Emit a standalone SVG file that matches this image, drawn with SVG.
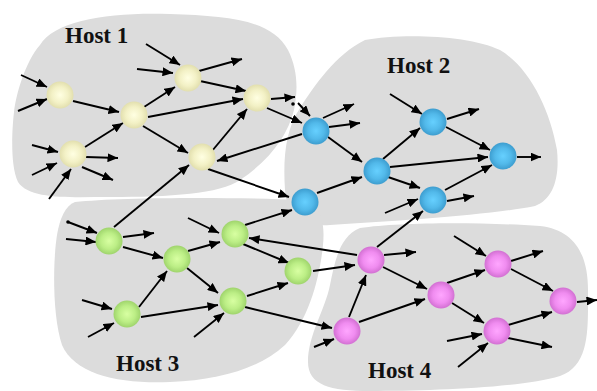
<svg xmlns="http://www.w3.org/2000/svg" width="597" height="391" viewBox="0 0 597 391">
  <style>
    .host { fill: #dcdcdc; stroke: none; }
    .label { font-family: "Liberation Serif", "Times New Roman", serif; font-weight: bold; font-size: 23px; fill: #111; }
    .edge { stroke: #000; stroke-width: 1.9; fill: none; marker-end: url(#arrow); }
    .dot { fill: #000; }
    .y { fill: url(#gYellow); }
    .b { fill: url(#gBlue); }
    .g { fill: url(#gGreen); }
    .p { fill: url(#gPink); }
  </style>
  <defs>
    <marker id="arrow" markerUnits="userSpaceOnUse" markerWidth="11" markerHeight="9" refX="10.5" refY="4.5" orient="auto">
      <path d="M0,0 L10.5,4.5 L0,9 Z" fill="#000"/>
    </marker>
    <radialGradient id="gYellow" cx="50%" cy="50%" r="50%">
      <stop offset="0" stop-color="#ffffe2"/>
      <stop offset="0.6" stop-color="#f3f1c6"/>
      <stop offset="1" stop-color="#e2dfae"/>
    </radialGradient>
    <radialGradient id="gBlue" cx="50%" cy="50%" r="50%">
      <stop offset="0" stop-color="#66d0ff"/>
      <stop offset="0.6" stop-color="#52b9ea"/>
      <stop offset="1" stop-color="#3d9dcf"/>
    </radialGradient>
    <radialGradient id="gGreen" cx="50%" cy="50%" r="50%">
      <stop offset="0" stop-color="#d8ffa2"/>
      <stop offset="0.6" stop-color="#bcee86"/>
      <stop offset="1" stop-color="#9fd46c"/>
    </radialGradient>
    <radialGradient id="gPink" cx="50%" cy="50%" r="50%">
      <stop offset="0" stop-color="#ffa6ff"/>
      <stop offset="0.6" stop-color="#f08cf0"/>
      <stop offset="1" stop-color="#d270d2"/>
    </radialGradient>
  </defs>

  <!-- host regions -->
  <g id="hosts">
    <path id="host1-area" class="host" d="M40,45 C55,20 110,12 170,14 C230,16 272,20 288,50 C298,70 298,90 294,110 C288,135 270,160 240,180 C220,194 170,197 110,197 C70,197 30,200 18,182 C10,165 12,130 14,112 C16,95 25,62 40,45 Z"/>
    <path id="host2-area" class="host" d="M365,40 C400,33 470,35 500,50 C530,68 550,110 557,150 C560,180 552,200 535,206 C490,215 400,221 330,225 C300,227 287,215 285,190 C283,160 285,130 300,108 C315,85 335,55 365,40 Z"/>
    <path id="host3-area" class="host" d="M75,202 C120,197 240,197 300,200 C322,204 325,225 323,245 C320,275 310,318 285,345 C260,368 220,380 170,382 C120,384 75,375 62,345 C52,315 53,260 57,235 C60,218 65,206 75,202 Z"/>
    <path id="host4-area" class="host" d="M360,228 C400,222 480,222 540,226 C575,230 588,255 588,290 C588,330 590,365 560,376 C520,388 430,391 370,391 C330,391 308,385 308,362 C308,335 325,310 330,285 C335,260 340,236 360,228 Z"/>
  </g>

  <g id="labels">
    <text class="label" x="65" y="43">Host 1</text>
    <text class="label" x="387" y="73">Host 2</text>
    <text class="label" x="116" y="371">Host 3</text>
    <text class="label" x="368" y="378">Host 4</text>
  </g>

  <!-- connectors -->
  <g id="connectors">
    <!-- host 1 -->
    <line class="edge" x1="21" y1="75" x2="47" y2="87"/>
    <line class="edge" x1="18" y1="111" x2="47" y2="99"/>
    <line class="edge" x1="73" y1="101" x2="119" y2="112"/>
    <line class="edge" x1="32" y1="145" x2="58" y2="152"/>
    <line class="edge" x1="32" y1="175" x2="57" y2="163"/>
    <line class="edge" x1="49" y1="199" x2="71" y2="169"/>
    <line class="edge" x1="86" y1="157" x2="118" y2="158"/>
    <line class="edge" x1="82" y1="167" x2="113" y2="180"/>
    <line class="edge" x1="85" y1="147" x2="123" y2="123"/>
    <line class="edge" x1="144" y1="107" x2="175" y2="87"/>
    <line class="edge" x1="148" y1="117" x2="243" y2="99"/>
    <line class="edge" x1="143" y1="126" x2="188" y2="153"/>
    <line class="edge" x1="146" y1="44" x2="180" y2="65"/>
    <line class="edge" x1="137" y1="69" x2="173" y2="73"/>
    <line class="edge" x1="199" y1="71" x2="242" y2="59"/>
    <line class="edge" x1="200" y1="81" x2="246" y2="91"/>
    <line class="edge" x1="212" y1="151" x2="247" y2="109"/>
    <line class="edge" x1="271" y1="99" x2="295" y2="97"/>
    <line class="edge" x1="267" y1="108" x2="302" y2="123"/>
    <line class="edge" x1="114" y1="227" x2="189" y2="165"/>
    <line class="edge" x1="302" y1="134" x2="217" y2="161"/>
    <line class="edge" x1="208" y1="169" x2="289" y2="197"/>
    <circle class="dot" cx="293" cy="104" r="1.8"/>
    <line class="edge" x1="298" y1="103" x2="310" y2="116"/>
    <!-- host 2 -->
    <line class="edge" x1="323" y1="118" x2="354" y2="104"/>
    <line class="edge" x1="329" y1="127" x2="360" y2="123"/>
    <line class="edge" x1="328" y1="137" x2="362" y2="162"/>
    <line class="edge" x1="317" y1="193" x2="362" y2="177"/>
    <line class="edge" x1="383" y1="159" x2="420" y2="128"/>
    <line class="edge" x1="390" y1="167" x2="488" y2="157"/>
    <line class="edge" x1="388" y1="177" x2="420" y2="188"/>
    <line class="edge" x1="390" y1="94" x2="422" y2="114"/>
    <line class="edge" x1="447" y1="119" x2="479" y2="109"/>
    <line class="edge" x1="446" y1="127" x2="490" y2="150"/>
    <line class="edge" x1="445" y1="190" x2="492" y2="165"/>
    <line class="edge" x1="447" y1="201" x2="474" y2="196"/>
    <line class="edge" x1="385" y1="213" x2="418" y2="199"/>
    <line class="edge" x1="377" y1="247" x2="423" y2="211"/>
    <line class="edge" x1="517" y1="157" x2="541" y2="157"/>
    <line class="edge" x1="245" y1="225" x2="292" y2="210"/>
    <!-- host 3 -->
    <circle class="dot" cx="68" cy="222" r="1.8"/>
    <line class="edge" x1="68" y1="222" x2="97" y2="233"/>
    <line class="edge" x1="66" y1="239" x2="96" y2="242"/>
    <line class="edge" x1="123" y1="237" x2="154" y2="233"/>
    <line class="edge" x1="123" y1="247" x2="163" y2="258"/>
    <line class="edge" x1="82" y1="300" x2="112" y2="309"/>
    <line class="edge" x1="88" y1="337" x2="114" y2="323"/>
    <line class="edge" x1="139" y1="307" x2="167" y2="271"/>
    <line class="edge" x1="141" y1="317" x2="218" y2="305"/>
    <line class="edge" x1="188" y1="251" x2="220" y2="242"/>
    <line class="edge" x1="187" y1="268" x2="218" y2="293"/>
    <line class="edge" x1="188" y1="218" x2="219" y2="233"/>
    <line class="edge" x1="243" y1="244" x2="289" y2="263"/>
    <line class="edge" x1="357" y1="255" x2="249" y2="238"/>
    <line class="edge" x1="247" y1="296" x2="288" y2="283"/>
    <line class="edge" x1="194" y1="337" x2="224" y2="313"/>
    <line class="edge" x1="245" y1="307" x2="332" y2="328"/>
    <line class="edge" x1="313" y1="271" x2="355" y2="265"/>
    <!-- host 4 -->
    <line class="edge" x1="384" y1="255" x2="416" y2="252"/>
    <line class="edge" x1="383" y1="267" x2="427" y2="289"/>
    <line class="edge" x1="349" y1="317" x2="366" y2="275"/>
    <line class="edge" x1="359" y1="322" x2="425" y2="299"/>
    <line class="edge" x1="314" y1="347" x2="334" y2="339"/>
    <line class="edge" x1="447" y1="283" x2="485" y2="270"/>
    <line class="edge" x1="452" y1="303" x2="484" y2="323"/>
    <line class="edge" x1="454" y1="236" x2="486" y2="256"/>
    <line class="edge" x1="511" y1="261" x2="543" y2="251"/>
    <line class="edge" x1="511" y1="269" x2="553" y2="291"/>
    <line class="edge" x1="508" y1="325" x2="552" y2="312"/>
    <line class="edge" x1="447" y1="341" x2="482" y2="334"/>
    <line class="edge" x1="458" y1="367" x2="488" y2="343"/>
    <line class="edge" x1="508" y1="338" x2="552" y2="347"/>
    <line class="edge" x1="577" y1="302" x2="597" y2="300"/>
  </g>

  <!-- host 1 nodes -->
  <g id="n1a"><circle class="y" cx="60" cy="95" r="13.5"/></g>
  <g id="n1b"><circle class="y" cx="73" cy="154" r="13.5"/></g>
  <g id="n1c"><circle class="y" cx="134" cy="115" r="13.5"/></g>
  <g id="n1d"><circle class="y" cx="188" cy="78" r="13.5"/></g>
  <g id="n1e"><circle class="y" cx="257" cy="98" r="13.5"/></g>
  <g id="n1f"><circle class="y" cx="202" cy="157" r="13.5"/></g>
  <!-- host 2 nodes -->
  <g id="n2a"><circle class="b" cx="316" cy="131" r="13.5"/></g>
  <g id="n2b"><circle class="b" cx="377" cy="171" r="13.5"/></g>
  <g id="n2c"><circle class="b" cx="433" cy="122" r="13.5"/></g>
  <g id="n2d"><circle class="b" cx="503" cy="156" r="13.5"/></g>
  <g id="n2e"><circle class="b" cx="433" cy="200" r="13.5"/></g>
  <g id="n2f"><circle class="b" cx="305" cy="202" r="13.5"/></g>
  <!-- host 3 nodes -->
  <g id="n3a"><circle class="g" cx="109" cy="241" r="13.5"/></g>
  <g id="n3b"><circle class="g" cx="177" cy="259" r="13.5"/></g>
  <g id="n3c"><circle class="g" cx="235" cy="234" r="13.5"/></g>
  <g id="n3d"><circle class="g" cx="298" cy="271" r="13.5"/></g>
  <g id="n3e"><circle class="g" cx="233" cy="301" r="13.5"/></g>
  <g id="n3f"><circle class="g" cx="127" cy="314" r="13.5"/></g>
  <!-- host 4 nodes -->
  <g id="n4a"><circle class="p" cx="371" cy="260" r="13.5"/></g>
  <g id="n4b"><circle class="p" cx="347" cy="331" r="13.5"/></g>
  <g id="n4c"><circle class="p" cx="441" cy="295" r="13.5"/></g>
  <g id="n4d"><circle class="p" cx="498" cy="264" r="13.5"/></g>
  <g id="n4e"><circle class="p" cx="497" cy="331" r="13.5"/></g>
  <g id="n4f"><circle class="p" cx="563" cy="301" r="13.5"/></g>
</svg>
